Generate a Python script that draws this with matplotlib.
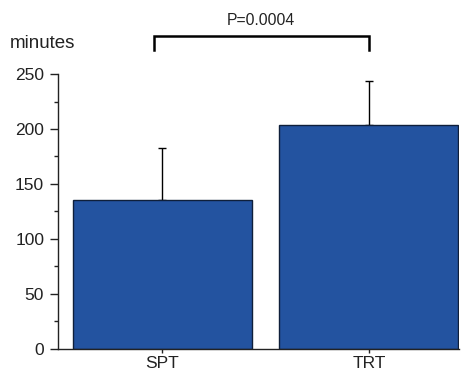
import matplotlib
matplotlib.use("Agg")
import matplotlib.pyplot as plt

categories = ["SPT", "TRT"]
means = [135, 204]
errors_up = [48, 40]
p_label = "P=0.0004"
y_label = "minutes"
y_ticks = [0, 50, 100, 150, 200, 250]

plt.rcParams['font.family'] = ['Liberation Sans', 'DejaVu Sans']

fig = plt.figure(figsize=(4.69, 3.74), dpi=100)
ax = fig.add_axes([0.1237, 0.0677, 0.855, 0.7343])

x = list(range(len(categories)))
ax.bar(x, means, width=0.867, color="#2353a0", edgecolor="#0f1f3a", linewidth=1.0, zorder=2)
ax.errorbar(x, means, yerr=[[0]*len(means), errors_up], fmt="none", ecolor="black",
            elinewidth=1.0, capsize=3, capthick=1.0, zorder=1)

ax.set_xlim(-0.506, 1.436)
ax.set_ylim(0, 250)
ax.set_yticks(y_ticks)
ax.set_yticks(range(0, 251, 25), minor=True)
ax.set_xticks(x)
ax.set_xticklabels(categories)
for s in ["top", "right"]:
    ax.spines[s].set_visible(False)
for s in ["left", "bottom"]:
    ax.spines[s].set_linewidth(1.0)
    ax.spines[s].set_color("#222222")
ax.tick_params(axis="y", which="major", length=6, width=1, labelsize=12.5, colors="#222222", pad=4)
ax.tick_params(axis="y", which="minor", length=3, width=1, colors="#222222")
ax.tick_params(axis="x", length=3, width=1, labelsize=12.5, colors="#222222", pad=2)

# significance bracket
ybr = 285
ylow = 272
ax.plot([-0.04, -0.04, 1.0, 1.0], [ylow, ybr, ybr, ylow], color="black", lw=1.8,
        clip_on=False, solid_joinstyle="miter")
ax.text(0.475, ybr + 7, p_label, ha="center", va="bottom", fontsize=11.3, color="#222222")

fig.text(10/469, 1 - 43/374, y_label, ha="left", va="center", fontsize=13.5, color="#222222")

fig.savefig("out.png", dpi=100)
